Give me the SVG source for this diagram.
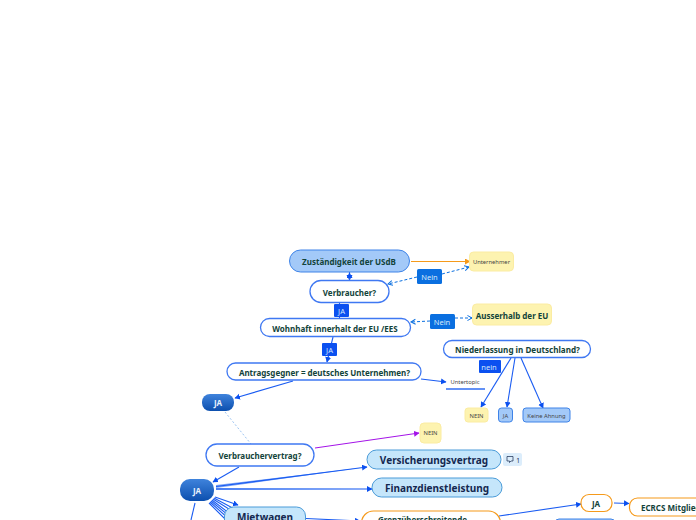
<svg xmlns="http://www.w3.org/2000/svg" width="696" height="520" viewBox="0 0 696 520">
<defs>
<linearGradient id="blue" x1="0" y1="0" x2="0" y2="1"><stop offset="0" stop-color="#3f83dc"/><stop offset="1" stop-color="#0c4fae"/></linearGradient>
<marker id="a" markerWidth="7" markerHeight="7" refX="5" refY="3" orient="auto" markerUnits="userSpaceOnUse"><path d="M0 0L5.500 3L0 6z" fill="#0b50f0"/></marker>
<marker id="o" markerWidth="7" markerHeight="7" refX="5" refY="3" orient="auto" markerUnits="userSpaceOnUse"><path d="M0 0L5.500 3L0 6z" fill="#f59a1b"/></marker>
<marker id="p" markerWidth="7" markerHeight="7" refX="5" refY="3" orient="auto" markerUnits="userSpaceOnUse"><path d="M0 0L5.500 3L0 6z" fill="#a413e8"/></marker>
<marker id="d" markerWidth="7" markerHeight="7" refX="5" refY="3" orient="auto" markerUnits="userSpaceOnUse"><path d="M0.500 0.500L5 3L0.500 5.500" fill="none" stroke="#0a6fe0"/></marker>
</defs>
<style>
text{font-family:"Noto Sans","Open Sans",sans-serif;text-anchor:middle;dominant-baseline:central}
.c{fill:none;stroke:#1a5cf2;stroke-width:1.100}
.dash{fill:none;stroke:#0a6fe0;stroke-width:1;stroke-dasharray:3 2}
.w{fill:#fff;stroke:#3f78f2;stroke-width:1.300}
.g{fill:#12433a;font-weight:700;font-size:8px}
.y{fill:#fdf3b0;stroke:#fbeca2;stroke-width:1}
.s{fill:#444;font-size:5.800px}
.l{fill:#c5e6fb;stroke:#4a9bd8;stroke-width:1}
.n{fill:#14284f;font-weight:700;font-size:10px}
.tag{fill:#0a6fe0}
.tag2{fill:#0b50f0}
.tt{fill:#d5e8fb;font-size:7.500px}
.b{fill:#a3c9f8;stroke:#3e83e8;stroke-width:1}
.or{fill:#fff;stroke:#f59a1b;stroke-width:1.200}
</style>
<g id="connectors">
<path d="M411 261.500H470" fill="none" stroke="#f59a1b" marker-end="url(#o)"/>
<path d="M349.500 272V280" class="c" marker-end="url(#a)"/><path d="M349.500 280V273" class="c" marker-end="url(#a)"/>
<path d="M417 277L388 284" class="dash" marker-end="url(#d)"/>
<path d="M442 274L469 267" class="dash" marker-end="url(#d)"/>
<path d="M339.500 303L339.500 318" class="c"/>
<path d="M333 337L327 362" class="c" marker-end="url(#a)"/>
<path d="M430 321L411 322" class="dash" marker-end="url(#d)"/>
<path d="M455 318L472 318" class="dash" marker-end="url(#d)"/>
<path d="M293 381L235 398" class="c" marker-end="url(#a)"/>
<path d="M421 379L446 382" class="c" marker-end="url(#a)"/>
<path d="M511 358L481 407" class="c" marker-end="url(#a)"/>
<path d="M515 358L507 407" class="c" marker-end="url(#a)"/>
<path d="M521 358L543 408" class="c" marker-end="url(#a)"/>
<path d="M225 412L251 444" fill="none" stroke="#9cc4f2" stroke-width="1" stroke-dasharray="2 2"/>
<path d="M315 448L419 433" fill="none" stroke="#a413e8" stroke-width="1" marker-end="url(#p)"/>
<path d="M239 467L213 482" class="c" marker-end="url(#a)"/>
<path d="M216 485L367 467L216 488z" fill="#7ea6f6"/>
<path d="M216 486.500L367 467" class="c" marker-end="url(#a)"/>
<path d="M216 488L372 489L216 490z" fill="#7ea6f6"/>
<path d="M216 489H372" class="c" marker-end="url(#a)"/>
<path d="M215 497L238 505" class="c" marker-end="url(#a)"/>
<path d="M214 498L240 512M213 499L240 516M212 500L238 520M211 501L234 520M210 502L230 520M209 503L226 520" class="c"/>
<path d="M195 503L191 520" class="c"/>
<path d="M306 518.500L360 521" class="c" marker-end="url(#a)"/>
<path d="M499 516L581 504" class="c" marker-end="url(#a)"/>
<path d="M614 503L629 503.500" class="c" marker-end="url(#a)"/>
</g>
<g id="n-zustaendigkeit"><rect class="b" x="289.500" y="250" width="120" height="22" rx="11"/><text class="g" x="349" y="261">Zuständigkeit der USdB</text></g>
<g id="n-unternehmer"><rect class="y" x="469.500" y="252" width="44" height="19" rx="4"/><text class="s" x="491.500" y="261.500">Unternehmer</text></g>
<g id="n-nein1"><rect class="tag" x="417" y="269" width="25" height="15" rx="1.500"/><text class="tt" x="429.500" y="276.500">Nein</text></g>
<g id="n-verbraucher"><rect class="w" x="310" y="280.500" width="79" height="22" rx="11"/><text class="g" x="349.500" y="292">Verbraucher?</text></g>
<g id="n-ja1"><rect class="tag2" x="334" y="304" width="15" height="13" rx="1"/><text class="tt" x="341.500" y="310.500">JA</text></g>
<g id="n-wohnhaft"><rect class="w" x="260.500" y="318.500" width="150" height="18" rx="9"/><text class="g" x="335" y="328">Wohnhaft innerhalt der EU /EES</text></g>
<g id="n-nein2"><rect class="tag" x="430" y="314" width="25" height="15" rx="1.500"/><text class="tt" x="442" y="321.500">Nein</text></g>
<g id="n-ausserhalb"><rect class="y" x="472.500" y="304" width="79" height="21" rx="4"/><text class="g" x="512" y="315">Ausserhalb der EU</text></g>
<g id="n-niederlassung"><rect class="w" x="443.500" y="340.500" width="147" height="17" rx="8.500"/><text class="g" x="517.500" y="349" style="font-size:8.100px">Niederlassung in Deutschland?</text></g>
<g id="n-ja2"><rect class="tag2" x="322" y="343" width="15" height="13" rx="1"/><text class="tt" x="329.500" y="349.500">JA</text></g>
<g id="n-antrag"><rect class="w" x="227" y="363" width="194" height="17" rx="8.500"/><text class="g" x="324.500" y="372">Antragsgegner = deutsches Unternehmen?</text></g>
<g id="n-nein3"><rect class="tag2" x="479" y="360" width="22" height="13" rx="1"/><text class="tt" x="489" y="366.500">nein</text></g>
<g id="n-untertopic"><text class="s" x="465" y="382">Untertopic</text><path d="M446 389H485" stroke="#2f6df2" stroke-width="1.500" fill="none"/></g>
<g id="n-nein-y"><rect class="y" x="465" y="408" width="23" height="14" rx="3"/><text class="s" x="476.500" y="415.500">NEIN</text></g>
<g id="n-ja-b"><rect class="b" x="498.500" y="408" width="14" height="14" rx="3"/><text class="s" x="505.500" y="415.500">JA</text></g>
<g id="n-keine"><rect class="b" x="523" y="408" width="47" height="14" rx="3"/><text class="s" x="546.500" y="415.500">Keine Ahnung</text></g>
<g id="n-ja3"><rect x="202" y="394" width="32" height="17" rx="8" fill="url(#blue)"/><text x="218" y="402.500" style="fill:#e8f1fc;font-weight:700;font-size:8px">JA</text></g>
<g id="n-nein-y2"><rect class="y" x="420" y="423" width="21" height="20" rx="4"/><text class="s" x="430.500" y="433">NEIN</text></g>
<g id="n-vertrag"><rect class="w" x="206" y="444" width="108" height="22" rx="11"/><text class="g" x="260" y="455">Verbrauchervertrag?</text></g>
<g id="n-versicherung"><rect class="l" x="367" y="450" width="134" height="19" rx="9.500"/><text class="n" x="434" y="459.500">Versicherungsvertrag</text></g>
<g id="n-comment"><rect x="503" y="453" width="19" height="13" rx="2" fill="#dcedfb"/><path d="M507 456.500h6v4.500h-2l-1.500 1.500v-1.500h-2.500z" fill="none" stroke="#14284f" stroke-width=".7"/><text x="518" y="460" style="fill:#14284f;font-size:6.500px">1</text></g>
<g id="n-finanz"><rect class="l" x="372" y="478" width="130" height="19" rx="9.500"/><text class="n" x="437" y="487.500">Finanzdienstleistung</text></g>
<g id="n-ja4"><rect x="180" y="479" width="34" height="22" rx="10" fill="url(#blue)"/><text x="197" y="490" style="fill:#e8f1fc;font-weight:700;font-size:8px">JA</text></g>
<g id="n-mietwagen"><rect class="l" x="224.500" y="507" width="81" height="26" rx="9"/><text class="n" x="265" y="516.500">Mietwagen</text></g>
<g id="n-grenz"><rect class="or" x="361.500" y="511" width="139" height="30" rx="12"/><text class="g" x="422.500" y="519">Grenzüberschreitende</text></g>
<g id="n-ja5"><rect class="or" x="581" y="494.500" width="31" height="17" rx="8"/><text class="g" x="596" y="503">JA</text></g>
<g id="n-ecrcs"><rect class="or" x="629.500" y="498" width="90" height="18" rx="8"/><text class="g" x="641" y="507" style="text-anchor:start">ECRCS Mitglied</text></g>
<g id="n-blue-bottom"><rect class="b" x="555" y="519" width="60" height="14" rx="4"/></g>
</svg>
